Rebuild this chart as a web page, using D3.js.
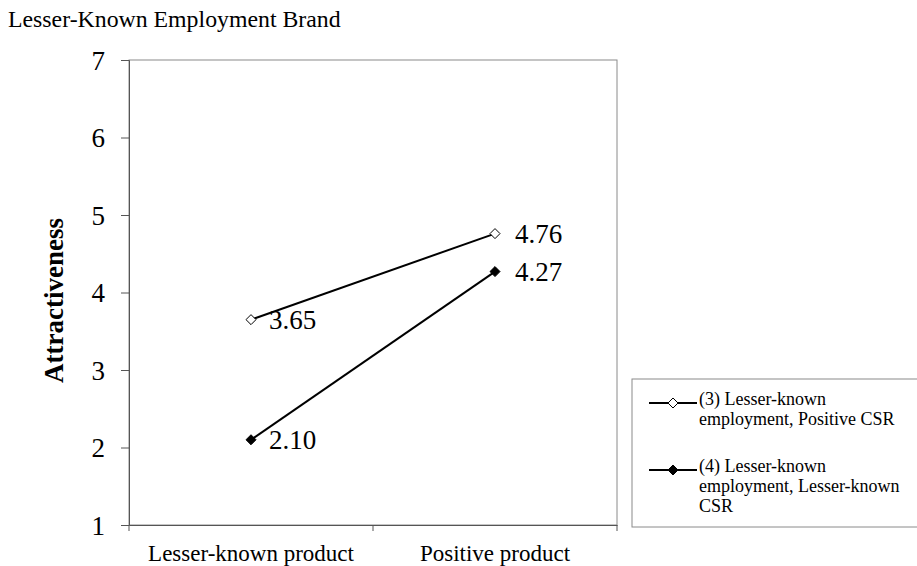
<!DOCTYPE html>
<html>
<head>
<meta charset="utf-8">
<script src="https://cdn.jsdelivr.net/npm/d3@7"></script>
<style>
  body { margin: 0; background: #fff; }
  svg text { font-family: "Liberation Serif", "Times New Roman", Times, serif !important; fill: #000; }
</style>
</head>
<body>
<svg id="chart"></svg>
<script>
// data
let categories = ["Lesser-known product", "Positive product"];
let seriesNames = ["(3) Lesser-known employment, Positive CSR",
                   "(4) Lesser-known employment, Lesser-known CSR"];
let positiveCSR = [3.65, 4.76];
let lesserCSR = [2.10, 4.27];
let yTicks = [1, 2, 3, 4, 5, 6, 7];
let legendLines = [["(3) Lesser-known", "employment, Positive CSR"],
                   ["(4) Lesser-known", "employment, Lesser-known", "CSR"]];

const SERIF = "'Liberation Serif', 'Times New Roman', Times, serif";

function getConfig() {
    let width = 917, height = 566;
    let margin = { top: 60, left: 129, right: 300, bottom: 41 };
    let bodyWidth = width - margin.left - margin.right;
    let bodyHeight = height - margin.top - margin.bottom;
    let container = d3.select("#chart").attr("width", width).attr("height", height)
        .attr("font-family", SERIF);
    return { width, height, margin, bodyWidth, bodyHeight, container };
}

function getScales(config) {
    let { margin, bodyWidth, bodyHeight } = config;
    let xScale = d3.scaleBand()
        .domain(categories)
        .range([margin.left, margin.left + bodyWidth]);
    let yScale = d3.scaleLinear()
        .domain([1, 7])
        .range([margin.top + bodyHeight, margin.top]);
    return { xScale, yScale };
}

function drawAxes(scales, config) {
    let { xScale, yScale } = scales;
    let { container, margin, bodyWidth, bodyHeight } = config;

    // plot frame
    container.append("rect")
        .attr("x", margin.left).attr("y", margin.top)
        .attr("width", bodyWidth).attr("height", bodyHeight)
        .attr("fill", "none").attr("stroke", "#8a8a8a").attr("stroke-width", 1);

    let axisY = d3.axisLeft(yScale).tickValues(yTicks).tickSize(8).tickPadding(16).tickFormat(d3.format("d"));
    let gy = container.append("g")
        .attr("transform", `translate(${margin.left},0)`)
        .call(axisY)
        .attr("font-family", SERIF);
    gy.select(".domain").attr("stroke", "#555");
    gy.selectAll(".tick line").attr("stroke", "#555");
    gy.selectAll("text").style("font-size", "27px").style("font-family", SERIF).attr("dy", "0.34em");

    // x ticks sit on band edges, so draw axis from band scale then add edge tick lines
    let axisX = d3.axisBottom(xScale).tickSize(0).tickPadding(20);
    let gx = container.append("g")
        .attr("transform", `translate(0,${margin.top + bodyHeight})`)
        .call(axisX)
        .attr("font-family", SERIF);
    gx.select(".domain").attr("stroke", "#555");
    gx.selectAll("text").style("font-size", "23px").style("font-family", SERIF);
    let edges = [margin.left, margin.left + xScale.bandwidth(), margin.left + bodyWidth];
    gx.selectAll(".edge").data(edges).enter().append("line")
        .attr("x1", d => d).attr("x2", d => d)
        .attr("y1", 0).attr("y2", 6)
        .attr("stroke", "#555");

    container.append("text")
        .attr("transform", `translate(63,${margin.top + bodyHeight / 2 + 8}) rotate(-90)`)
        .attr("text-anchor", "middle")
        .style("font-size", "27px").style("font-weight", "bold").style("font-family", SERIF)
        .text("Attractiveness");

    container.append("text")
        .attr("x", 8).attr("y", 27)
        .style("font-size", "23.8px").style("font-family", SERIF)
        .text("Lesser-Known Employment Brand");
}

function diamond(sel, x, y, filled) {
    sel.append("path")
        .attr("d", d3.symbol().type(d3.symbolDiamond2).size(64)())
        .attr("transform", `translate(${x},${y})`)
        .attr("fill", filled ? "#000" : "#fff")
        .attr("stroke", "#000").attr("stroke-width", 1);
}

function drawSeries(scales, config) {
    let { xScale, yScale } = scales;
    let { container } = config;
    let cx = c => xScale(c) + xScale.bandwidth() / 2;
    let line = d3.line().x((d, i) => cx(categories[i])).y(d => yScale(d));
    let series = [{ values: positiveCSR, filled: false }, { values: lesserCSR, filled: true }];

    series.forEach(s => {
        container.append("path")
            .attr("d", line(s.values))
            .attr("fill", "none").attr("stroke", "#000").attr("stroke-width", 2);
        s.values.forEach((v, i) => {
            diamond(container, cx(categories[i]), yScale(v), s.filled);
            container.append("text")
                .attr("x", cx(categories[i]) + (i === 0 ? 18 : 20))
                .attr("y", yScale(v) + 9.5)
                .style("font-size", "27px").style("font-family", SERIF)
                .text(v.toFixed(2));
        });
    });
}

function drawLegend(config) {
    let { container } = config;
    let g = container.append("g").attr("transform", "translate(632,379)");
    g.append("rect")
        .attr("x", 0).attr("y", 0).attr("width", 300).attr("height", 148)
        .attr("fill", "#fff").attr("stroke", "#8a8a8a");
    let rowY = [24, 91];
    seriesNames.forEach((name, i) => {
        g.append("line")
            .attr("x1", 17).attr("x2", 65).attr("y1", rowY[i]).attr("y2", rowY[i])
            .attr("stroke", "#000").attr("stroke-width", 2);
        diamond(g, 41, rowY[i], i === 1);
        let t = g.append("text").attr("x", 67).attr("y", rowY[i])
            .style("font-size", "18px").style("font-family", SERIF);
        legendLines[i].forEach((ln, j) => {
            t.append("tspan").attr("x", 67).attr("y", rowY[i] + 2 + j * 20).text(ln);
        });
    });
}

let config = getConfig();
let scales = getScales(config);
drawAxes(scales, config);
drawSeries(scales, config);
drawLegend(config);
</script>
</body>
</html>
